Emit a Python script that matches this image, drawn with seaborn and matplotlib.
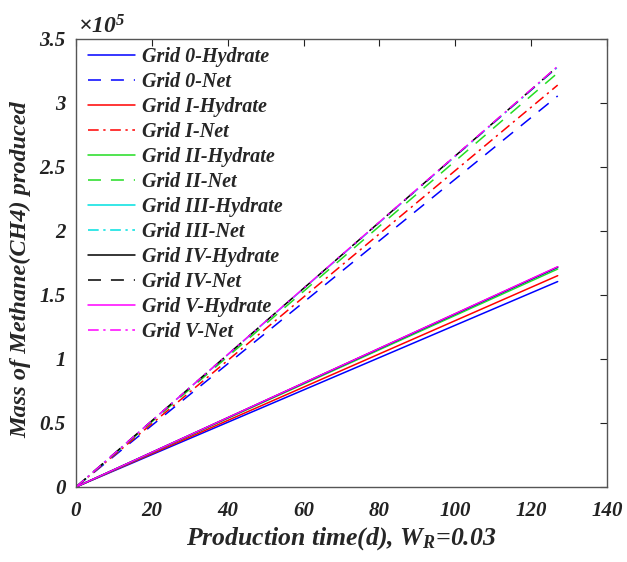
import matplotlib
matplotlib.use("Agg")
import matplotlib.pyplot as plt
import seaborn as sns
import pandas as pd

# ---- data ----
time_days = [0, 127]
grid_names = ["Grid 0", "Grid I", "Grid II", "Grid III", "Grid IV", "Grid V"]
hydrate_end = [1.605e5, 1.651e5, 1.703e5, 1.715e5, 1.718e5, 1.721e5]
net_end = [3.055e5, 3.14e5, 3.235e5, 3.28e5, 3.285e5, 3.287e5]
x_ticks = [0, 20, 40, 60, 80, 100, 120, 140]
y_ticks = [0, 0.5e5, 1.0e5, 1.5e5, 2.0e5, 2.5e5, 3.0e5, 3.5e5]
y_tick_labels = ["0", "0.5", "1", "1.5", "2", "2.5", "3", "3.5"]

colors = ["#0000ff", "#ff0000", "#22dd22", "#00e0e0", "#000000", "#ff00ff"]
dash = (0, (8.5, 6.5))
dashdot = (0, (7, 3, 1.5, 3))
net_styles = [dash, dashdot, dash, dashdot, dash, dashdot]

sns.set_style("white")
plt.rcParams["font.family"] = ["Liberation Serif", "DejaVu Serif"]
plt.rcParams["font.weight"] = "bold"
plt.rcParams["font.style"] = "italic"
plt.rcParams["mathtext.fontset"] = "custom"
plt.rcParams["mathtext.it"] = "Liberation Serif:bold:italic"
plt.rcParams["mathtext.rm"] = "Liberation Serif:bold:italic"
plt.rcParams["mathtext.bf"] = "Liberation Serif:bold:italic"

fig = plt.figure(figsize=(6.27, 5.62), dpi=100)
ax = fig.add_axes([76 / 627, 75 / 562, 531 / 627, 448 / 562])

for i, g in enumerate(grid_names):
    dfh = pd.DataFrame({"t": time_days, "m": [0, hydrate_end[i]]})
    dfn = pd.DataFrame({"t": time_days, "m": [0, net_end[i]]})
    sns.lineplot(data=dfh, x="t", y="m", ax=ax, color=colors[i], lw=1.1,
                 label=f"{g}-Hydrate")
    l = sns.lineplot(data=dfn, x="t", y="m", ax=ax, color=colors[i], lw=1.1,
                     label=f"{g}-Net")
    l.lines[-1].set_linestyle(net_styles[i])

ax.set_xlim(0, 140)
ax.set_ylim(0, 3.5e5)
ax.set_xticks(x_ticks)
ax.set_xticklabels([str(v) for v in x_ticks])
ax.set_yticks(y_ticks)
ax.set_yticklabels(y_tick_labels)
ax.tick_params(direction="in", length=5, width=0.8, top=True, right=True,
               labelsize=15, colors="#222222")
ax.tick_params(axis="x", pad=10)
ax.tick_params(axis="y", pad=7.5)
for s in ax.spines.values():
    s.set_color("#555555")
    s.set_linewidth(1.0)

ax.set_xlabel(r"Production time(d), $W_R$=0.03", fontsize=18.5, weight="bold",
              style="italic", labelpad=3)
ax.set_ylabel("Mass of Methane(CH4) produced", fontsize=17.5, weight="bold",
              style="italic")
ax.yaxis.set_label_coords(-0.085, 0.485)
ax.text(0.004, 1.013, r"$\times$10$^{5}$", transform=ax.transAxes, fontsize=17,
        ha="left", va="baseline")

leg = ax.legend(loc="upper left", bbox_to_anchor=(0.0075, 1.0), frameon=False,
                fontsize=14.5, handlelength=2.35, handletextpad=0.35,
                labelspacing=0.25, borderpad=0.2, borderaxespad=0.2)

fig.savefig("out.png", dpi=100)
